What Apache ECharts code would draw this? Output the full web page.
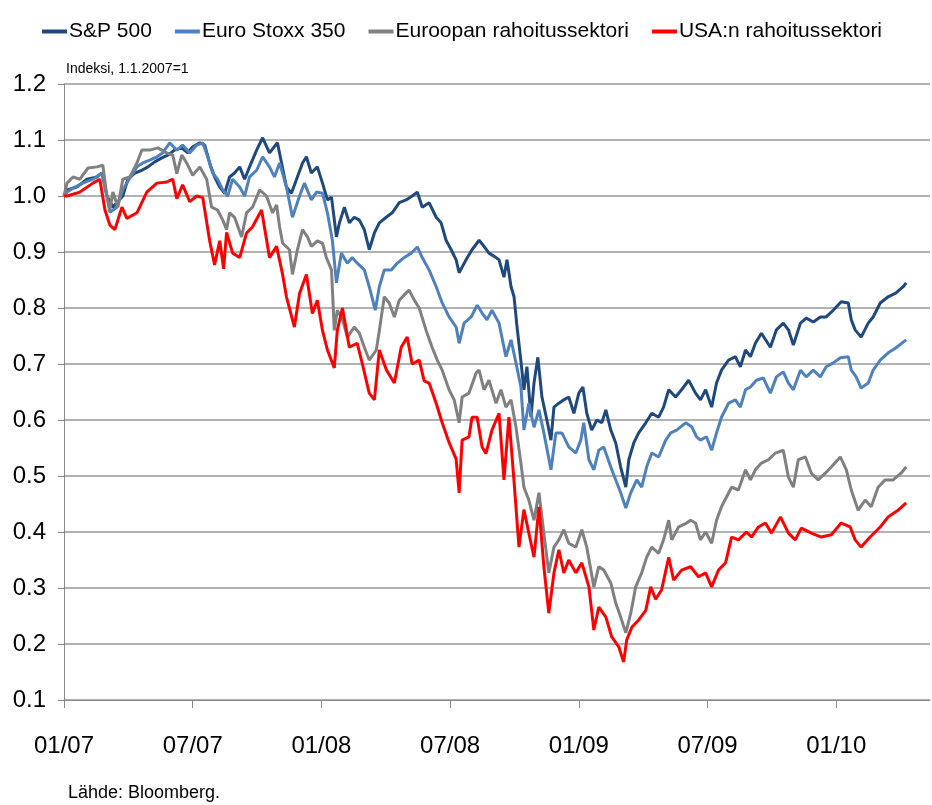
<!DOCTYPE html>
<html>
<head>
<meta charset="utf-8">
<title>Osakeindeksit 2007-2010</title>
<script src="https://cdn.jsdelivr.net/npm/echarts@6.0.0/dist/echarts.min.js"></script>
<style>
  html, body { margin: 0; padding: 0; background: #fff; }
  #chart { width: 932px; height: 805px; }
</style>
</head>
<body>
<div id="chart"></div>
<script>
// x = kuukausia 1.1.2007 jälkeen, y = indeksi (1.1.2007 = 1)
var seriesNames = ['S&P 500', 'Euro Stoxx 350', 'Euroopan rahoitussektori', 'USA:n rahoitussektori'];
var seriesColors = ['#1F497D', '#4F81BD', '#808080', '#FF0000'];

var xTickMonths = [0, 6, 12, 18, 24, 30, 36];
var xTickLabels = ['01/07', '07/07', '01/08', '07/08', '01/09', '07/09', '01/10'];

var sp500 = [[0,1.0],[0.14,1.011],[0.6,1.016],[1.07,1.03],[1.53,1.034],[1.77,1.041],[2.0,1.0],[2.28,0.98],[2.74,1.0],[2.98,1.03],[3.3,1.041],[3.63,1.046],[3.91,1.052],[4.23,1.061],[4.56,1.068],[4.84,1.073],[5.16,1.082],[5.49,1.086],[5.77,1.077],[6.0,1.088],[6.33,1.095],[6.56,1.091],[6.79,1.059],[7.02,1.034],[7.26,1.016],[7.49,1.005],[7.72,1.034],[7.95,1.041],[8.19,1.052],[8.42,1.03],[8.65,1.052],[8.98,1.082],[9.26,1.104],[9.58,1.077],[9.95,1.095],[10.37,1.016],[10.6,1.005],[10.84,1.03],[11.12,1.059],[11.3,1.07],[11.53,1.041],[11.81,1.052],[12.05,1.023],[12.28,0.993],[12.47,0.998],[12.7,0.927],[12.84,0.952],[13.07,0.98],[13.3,0.952],[13.53,0.962],[13.77,0.957],[14.0,0.94],[14.23,0.904],[14.47,0.934],[14.7,0.952],[15.02,0.962],[15.3,0.97],[15.63,0.988],[15.95,0.993],[16.23,1.0],[16.47,1.007],[16.7,0.98],[17.02,0.988],[17.35,0.962],[17.58,0.952],[17.81,0.921],[18.05,0.904],[18.28,0.886],[18.42,0.863],[18.74,0.886],[19.02,0.904],[19.35,0.921],[19.58,0.91],[19.81,0.898],[20.14,0.89],[20.28,0.886],[20.51,0.855],[20.65,0.886],[20.84,0.838],[20.98,0.82],[21.12,0.766],[21.3,0.705],[21.44,0.654],[21.58,0.695],[21.77,0.605],[21.91,0.666],[22.09,0.712],[22.28,0.641],[22.51,0.6],[22.7,0.564],[22.84,0.623],[23.07,0.63],[23.3,0.636],[23.53,0.641],[23.77,0.612],[24.0,0.648],[24.19,0.659],[24.37,0.612],[24.6,0.582],[24.84,0.6],[25.07,0.595],[25.26,0.618],[25.49,0.582],[25.72,0.559],[25.95,0.516],[26.19,0.48],[26.33,0.529],[26.56,0.559],[26.79,0.577],[27.12,0.595],[27.4,0.612],[27.72,0.605],[27.95,0.623],[28.19,0.654],[28.51,0.641],[28.79,0.654],[29.12,0.671],[29.44,0.648],[29.67,0.636],[29.91,0.654],[30.19,0.623],[30.42,0.666],[30.65,0.689],[30.98,0.707],[31.3,0.713],[31.53,0.695],[31.77,0.725],[32.0,0.713],[32.23,0.737],[32.51,0.755],[32.93,0.73],[33.21,0.761],[33.53,0.773],[33.77,0.761],[34.0,0.734],[34.33,0.773],[34.6,0.782],[34.93,0.775],[35.26,0.784],[35.53,0.784],[35.86,0.796],[36.23,0.811],[36.56,0.809],[36.7,0.779],[36.88,0.761],[37.16,0.748],[37.49,0.773],[37.72,0.784],[38.05,0.809],[38.42,0.82],[38.79,0.827],[39.12,0.838],[39.26,0.845]];

var euroStoxx = [[0,1.0],[0.14,1.007],[0.42,1.014],[0.88,1.023],[1.35,1.03],[1.77,1.041],[2.0,1.0],[2.14,0.971],[2.47,0.98],[2.74,1.011],[3.07,1.032],[3.4,1.052],[3.67,1.059],[4.0,1.064],[4.33,1.07],[4.6,1.077],[4.93,1.095],[5.26,1.082],[5.53,1.091],[5.86,1.077],[6.19,1.091],[6.47,1.095],[6.7,1.07],[6.93,1.041],[7.16,1.03],[7.4,1.011],[7.63,1.0],[7.86,1.03],[8.19,1.016],[8.42,1.0],[8.65,1.034],[8.98,1.046],[9.26,1.07],[9.58,1.052],[9.81,1.034],[10.05,1.059],[10.37,1.016],[10.65,0.962],[10.98,1.0],[11.21,1.023],[11.53,0.993],[11.77,1.007],[12.05,1.005],[12.28,0.97],[12.51,0.921],[12.7,0.845],[12.93,0.898],[13.21,0.88],[13.44,0.89],[13.67,0.88],[14.0,0.868],[14.23,0.838],[14.51,0.796],[14.7,0.838],[14.93,0.868],[15.26,0.868],[15.53,0.88],[15.86,0.89],[16.19,0.898],[16.47,0.909],[16.7,0.89],[17.02,0.868],[17.35,0.838],[17.63,0.809],[17.95,0.784],[18.28,0.766],[18.42,0.737],[18.65,0.773],[18.98,0.784],[19.26,0.805],[19.49,0.791],[19.72,0.779],[19.95,0.796],[20.28,0.773],[20.6,0.713],[20.84,0.743],[21.07,0.702],[21.3,0.659],[21.44,0.582],[21.67,0.63],[21.91,0.587],[22.14,0.618],[22.37,0.577],[22.7,0.511],[22.93,0.577],[23.21,0.577],[23.53,0.552],[23.86,0.541],[24.09,0.564],[24.23,0.595],[24.47,0.529],[24.7,0.511],[24.93,0.546],[25.16,0.552],[25.49,0.516],[25.72,0.493],[25.95,0.47],[26.19,0.443],[26.42,0.47],[26.7,0.493],[26.93,0.48],[27.16,0.516],[27.4,0.541],[27.72,0.534],[28.05,0.564],[28.28,0.577],[28.56,0.582],[28.98,0.595],[29.26,0.588],[29.49,0.57],[29.67,0.564],[29.95,0.57],[30.19,0.546],[30.42,0.577],[30.65,0.605],[30.98,0.63],[31.3,0.636],[31.53,0.623],[31.77,0.654],[32.0,0.659],[32.28,0.671],[32.6,0.675],[32.93,0.648],[33.21,0.677],[33.53,0.686],[33.77,0.666],[34.0,0.654],[34.33,0.689],[34.6,0.677],[34.93,0.689],[35.26,0.677],[35.53,0.695],[35.86,0.702],[36.19,0.711],[36.56,0.713],[36.7,0.689],[36.93,0.677],[37.16,0.657],[37.49,0.666],[37.72,0.689],[38.05,0.707],[38.42,0.72],[38.79,0.729],[39.12,0.739],[39.26,0.743]];

var euFinancials = [[0,1.0],[0.14,1.023],[0.42,1.034],[0.74,1.03],[1.12,1.05],[1.53,1.052],[1.81,1.055],[2.0,1.0],[2.14,0.975],[2.28,1.007],[2.51,0.98],[2.74,1.03],[3.07,1.034],[3.4,1.059],[3.63,1.082],[4.0,1.082],[4.37,1.086],[4.79,1.077],[5.07,1.073],[5.26,1.04],[5.49,1.073],[5.72,1.059],[6.0,1.037],[6.33,1.052],[6.65,1.03],[6.88,0.98],[7.16,0.975],[7.4,0.957],[7.58,0.94],[7.72,0.97],[7.95,0.962],[8.28,0.927],[8.51,0.97],[8.79,0.98],[9.12,1.011],[9.44,1.0],[9.72,0.97],[9.91,0.984],[10.05,0.945],[10.19,0.916],[10.51,0.904],[10.65,0.86],[10.88,0.904],[11.12,0.94],[11.35,0.927],[11.53,0.91],[11.81,0.92],[12.05,0.916],[12.23,0.89],[12.47,0.868],[12.6,0.76],[12.74,0.796],[12.98,0.78],[13.21,0.748],[13.53,0.766],[13.77,0.755],[14.0,0.73],[14.23,0.707],[14.56,0.725],[14.7,0.76],[14.93,0.82],[15.16,0.809],[15.4,0.784],[15.63,0.814],[15.95,0.827],[16.09,0.832],[16.33,0.814],[16.56,0.8],[16.88,0.76],[17.16,0.73],[17.4,0.707],[17.63,0.689],[17.95,0.654],[18.19,0.636],[18.42,0.595],[18.56,0.641],[18.88,0.648],[19.21,0.684],[19.35,0.689],[19.58,0.654],[19.81,0.671],[20.14,0.63],[20.37,0.654],[20.6,0.623],[20.84,0.636],[21.07,0.587],[21.3,0.523],[21.44,0.48],[21.67,0.457],[21.91,0.421],[22.14,0.47],[22.37,0.398],[22.6,0.327],[22.84,0.373],[23.07,0.386],[23.3,0.404],[23.53,0.38],[23.86,0.373],[24.14,0.404],[24.37,0.373],[24.7,0.302],[24.93,0.338],[25.16,0.332],[25.49,0.309],[25.72,0.273],[25.95,0.248],[26.19,0.22],[26.42,0.255],[26.65,0.302],[26.93,0.327],[27.16,0.355],[27.4,0.373],[27.72,0.362],[27.95,0.386],[28.19,0.421],[28.33,0.386],[28.65,0.409],[29.02,0.416],[29.21,0.421],[29.44,0.416],[29.67,0.386],[29.91,0.4],[30.19,0.38],[30.42,0.421],[30.65,0.445],[31.12,0.48],[31.44,0.475],[31.77,0.511],[32.0,0.493],[32.23,0.511],[32.51,0.523],[32.84,0.529],[33.16,0.541],[33.53,0.546],[33.77,0.498],[34.0,0.48],[34.23,0.529],[34.56,0.534],[34.84,0.505],[35.16,0.493],[35.49,0.505],[35.77,0.516],[36.19,0.534],[36.47,0.511],[36.7,0.475],[37.02,0.439],[37.35,0.457],[37.63,0.445],[37.95,0.48],[38.28,0.493],[38.65,0.493],[39.02,0.505],[39.26,0.516]];

var usFinancials = [[0,1.0],[0.14,1.0],[0.74,1.007],[1.35,1.023],[1.67,1.03],[1.91,0.975],[2.14,0.948],[2.37,0.94],[2.7,0.98],[2.93,0.96],[3.4,0.97],[3.86,1.007],[4.33,1.023],[4.79,1.025],[5.07,1.03],[5.26,0.995],[5.53,1.02],[5.86,0.99],[6.19,1.0],[6.47,0.997],[6.79,0.92],[7.02,0.877],[7.26,0.92],[7.44,0.87],[7.58,0.935],[7.86,0.898],[8.19,0.89],[8.51,0.934],[8.79,0.945],[9.21,0.975],[9.58,0.89],[9.91,0.91],[10.19,0.86],[10.37,0.82],[10.74,0.766],[10.98,0.826],[11.3,0.86],[11.58,0.79],[11.81,0.814],[12.05,0.76],[12.28,0.725],[12.6,0.693],[12.74,0.76],[12.98,0.8],[13.3,0.73],[13.67,0.737],[13.91,0.7],[14.23,0.648],[14.47,0.636],[14.7,0.725],[15.02,0.69],[15.4,0.666],[15.72,0.73],[16.0,0.748],[16.23,0.7],[16.56,0.707],[16.79,0.67],[17.02,0.666],[17.35,0.63],[17.63,0.595],[17.95,0.56],[18.28,0.53],[18.42,0.47],[18.56,0.564],[18.88,0.57],[19.02,0.605],[19.26,0.605],[19.49,0.552],[19.67,0.54],[19.95,0.582],[20.28,0.612],[20.51,0.493],[20.74,0.605],[20.98,0.49],[21.21,0.373],[21.44,0.44],[21.67,0.398],[21.91,0.355],[22.14,0.445],[22.37,0.338],[22.6,0.255],[22.84,0.327],[23.07,0.368],[23.3,0.327],[23.53,0.35],[23.86,0.327],[24.14,0.345],[24.47,0.302],[24.7,0.225],[24.93,0.266],[25.26,0.248],[25.53,0.213],[25.86,0.195],[26.09,0.168],[26.23,0.207],[26.47,0.23],[26.79,0.243],[27.12,0.26],[27.35,0.302],[27.58,0.28],[27.86,0.297],[28.19,0.355],[28.42,0.314],[28.79,0.332],[29.21,0.338],[29.58,0.32],[29.91,0.327],[30.19,0.302],[30.51,0.332],[30.84,0.345],[31.12,0.391],[31.44,0.386],[31.81,0.4],[32.05,0.391],[32.37,0.409],[32.7,0.416],[32.98,0.398],[33.4,0.427],[33.77,0.398],[34.09,0.386],[34.37,0.407],[34.84,0.398],[35.3,0.391],[35.77,0.395],[36.23,0.416],[36.65,0.409],[36.88,0.386],[37.16,0.373],[37.58,0.391],[38.05,0.409],[38.42,0.427],[38.88,0.439],[39.26,0.452]];

var seriesData = [sp500, euroStoxx, euFinancials, usFinancials];

var baseFont = "'Liberation Sans', Arial, sans-serif";

var dom = document.getElementById('chart');
var myChart = echarts.init(dom, null, { renderer: 'canvas' });

var series = seriesNames.map(function (name, i) {
    return {
        name: name,
        type: 'line',
        data: seriesData[i],
        showSymbol: false,
        symbol: 'none',
        lineStyle: { width: 3, color: seriesColors[i] },
        itemStyle: { color: seriesColors[i] },
        z: 2 + i
    };
});

var option = {
    animation: false,
    backgroundColor: '#fff',
    textStyle: { fontFamily: baseFont },
    legend: {
        data: seriesNames,
        left: 37,
        top: 16,
        width: 900,
        icon: 'rect',
        itemWidth: 25,
        itemHeight: 4,
        itemGap: 23,
        textStyle: { fontSize: 21, color: '#000', fontFamily: baseFont, padding: [0, 0, 0, -3] }
    },
    grid: { left: 64, right: 2, top: 84, bottom: 105, containLabel: false },
    graphic: [
        {
            type: 'text', left: 66, top: 62,
            style: { text: 'Indeksi, 1.1.2007=1', fontSize: 14, fill: '#000', fontFamily: baseFont }
        },
        {
            type: 'text', left: 68, top: 784,
            style: { text: 'Lähde: Bloomberg.', fontSize: 18, fill: '#000', fontFamily: baseFont }
        }
    ],
    xAxis: {
        type: 'value',
        min: 0,
        max: 40.37,
        interval: 6,
        axisLine: { show: true, onZero: false, lineStyle: { color: '#888', width: 1 } },
        axisTick: { show: true, length: 8, customValues: xTickMonths, lineStyle: { color: '#888' } },
        axisLabel: {
            customValues: xTickMonths,
            margin: 34,
            fontSize: 24,
            color: '#000',
            fontFamily: baseFont,
            formatter: function (v) {
                var idx = xTickMonths.indexOf(Math.round(v));
                return idx >= 0 ? xTickLabels[idx] : '';
            }
        },
        splitLine: { show: false }
    },
    yAxis: {
        type: 'value',
        min: 0.1,
        max: 1.2,
        interval: 0.1,
        axisLine: { show: true, lineStyle: { color: '#888', width: 1 } },
        axisTick: { show: true, length: 6, lineStyle: { color: '#888' } },
        axisLabel: {
            margin: 18,
            fontSize: 24,
            color: '#000',
            fontFamily: baseFont,
            formatter: function (v) { return v.toFixed(1); }
        },
        splitLine: { show: true, lineStyle: { color: '#999', width: 1.5 } }
    },
    series: series
};

myChart.setOption(option, true);
</script>
</body>
</html>
